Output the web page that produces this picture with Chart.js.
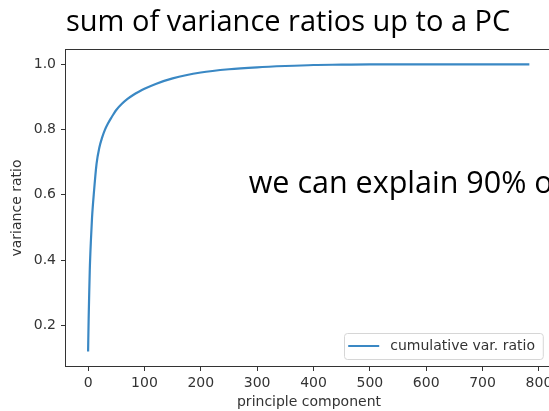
<!DOCTYPE html>
<html>
<head>
<meta charset="utf-8">
<script src="https://cdn.jsdelivr.net/npm/chart.js@4.4.1/dist/chart.umd.min.js"></script>
<style>
 html, body {margin:0; padding:0; background:#fff; overflow:hidden;}
 #wrap {width:560px; height:411px;}
</style>
</head>
<body>
<div id="wrap"><canvas id="chart" width="560" height="411"></canvas></div>
<script>
// DATA
var components = [0, 1, 2, 3, 5, 7, 10, 15, 20, 25, 30, 35, 40, 45, 50, 60, 70, 80, 90, 100, 120, 150, 200, 250, 300, 350, 400, 450, 500, 600, 700, 783];
var ratios     = [0.12, 0.22, 0.30, 0.37, 0.46, 0.53, 0.60, 0.695, 0.745, 0.776, 0.80, 0.818, 0.833, 0.847, 0.86, 0.879, 0.894, 0.906, 0.916, 0.925, 0.94, 0.957, 0.975, 0.985, 0.991, 0.995, 0.998, 0.999, 1.0, 1.0, 1.0, 1.0];
var x_ticks    = [0, 100, 200, 300, 400, 500, 600, 700, 800];
var y_ticks    = [0.2, 0.4, 0.6, 0.8, 1.0];

var title      = "sum of variance ratios up to a PC";
var note       = "we can explain 90% of";
var series     = "cumulative var. ratio";

var tick_font  = {family:"DejaVu Sans", size:14};
var ink        = "#333";


// FRAME, TITLE, NOTE, LEGEND
var decorations =
{
 id: "decorations",
 afterDraw: function(chart)
 {
  var ctx  = chart.ctx;
  var area = chart.chartArea;

  // spines
  ctx.save();
  ctx.strokeStyle = ink;
  ctx.lineWidth   = 1;
  ctx.strokeRect(Math.round(area.left) - 0.5, Math.round(area.top) - 0.5, Math.round(area.right - area.left) + 1, Math.round(area.bottom - area.top) + 1);

  // title and note
  ctx.fillStyle    = "#000";
  ctx.textBaseline = "alphabetic";
  ctx.textAlign    = "left";
  ctx.font         = '29px "Open Sans"';
  ctx.fillText(title, 66, 31);

  var sx = chart.scales.x, sy = chart.scales.y;
  ctx.font = '30.5px "Open Sans"';
  ctx.fillText(note, sx.getPixelForValue(285), sy.getPixelForValue(0.6) - 1.5);

  // legend
  var dataset = chart.data.datasets[0];
  ctx.font    = '14px "DejaVu Sans"';
  var tw      = ctx.measureText(dataset.label).width;
  var w       = 4 + 31 + 11 + tw + 8;
  var h       = 26;
  var bx      = area.right - 9 - w;
  var by      = area.bottom - 7 - h;

  ctx.fillStyle   = "rgba(255,255,255,0.9)";
  ctx.strokeStyle = "#d6d6d6";
  ctx.beginPath();
  ctx.roundRect(Math.round(bx) + 0.5, Math.round(by) + 0.5, w, h, 3);
  ctx.fill();
  ctx.stroke();

  ctx.strokeStyle = dataset.borderColor;
  ctx.lineWidth   = 2;
  ctx.beginPath();
  ctx.moveTo(bx + 4, by + h / 2);
  ctx.lineTo(bx + 35, by + h / 2);
  ctx.stroke();

  ctx.fillStyle    = ink;
  ctx.textBaseline = "middle";
  ctx.fillText(dataset.label, bx + 46, by + h / 2);
  ctx.restore();
 }
};


var config =
{
 type: "line",
 data:
 {
  datasets:
  [{
   label:                  series,
   data:                   components.map(function(n, i) { return {x:n, y:ratios[i]}; }),
   borderColor:            "#3a88c4",
   borderWidth:            2.2,
   pointRadius:            0,
   cubicInterpolationMode: "monotone",
   fill:                   false
  }]
 },
 options:
 {
  responsive: false,
  animation:  false,
  layout:     {padding:{top:50, right:8, left:0, bottom:0}},
  plugins:    {legend:{display:false}, tooltip:{enabled:false}},
  scales:
  {
   x:
   {
    type:   "linear",
    min:    -39.2,
    max:    823.2,
    border: {display:false},
    grid:   {drawOnChartArea:false, drawTicks:true, tickLength:5, color:ink},
    ticks:  {font:tick_font, color:ink, padding:4, maxRotation:0, autoSkip:false},
    title:  {display:true, text:"principle component", font:tick_font, color:ink, padding:{top:0, bottom:0}},
    afterBuildTicks: function(scale) { scale.ticks = x_ticks.map(function(v) { return {value:v}; }); },
    afterFit:        function(scale) { scale.height = 45; }
   },
   y:
   {
    type:   "linear",
    min:    0.0753,
    max:    1.044,
    border: {display:false},
    grid:   {drawOnChartArea:false, drawTicks:true, tickLength:5, color:ink},
    ticks:  {font:tick_font, color:ink, padding:5, callback:function(v) { return v.toFixed(1); }},
    title:  {display:true, text:"variance ratio", font:tick_font, color:ink, padding:{top:9, bottom:0}},
    afterBuildTicks: function(scale) { scale.ticks = y_ticks.map(function(v) { return {value:v}; }); },
    afterFit:        function(scale) { scale.width = 66; }
   }
  }
 },
 plugins: [decorations]
};

new Chart(document.getElementById("chart").getContext("2d"), config);
</script>
</body>
</html>
